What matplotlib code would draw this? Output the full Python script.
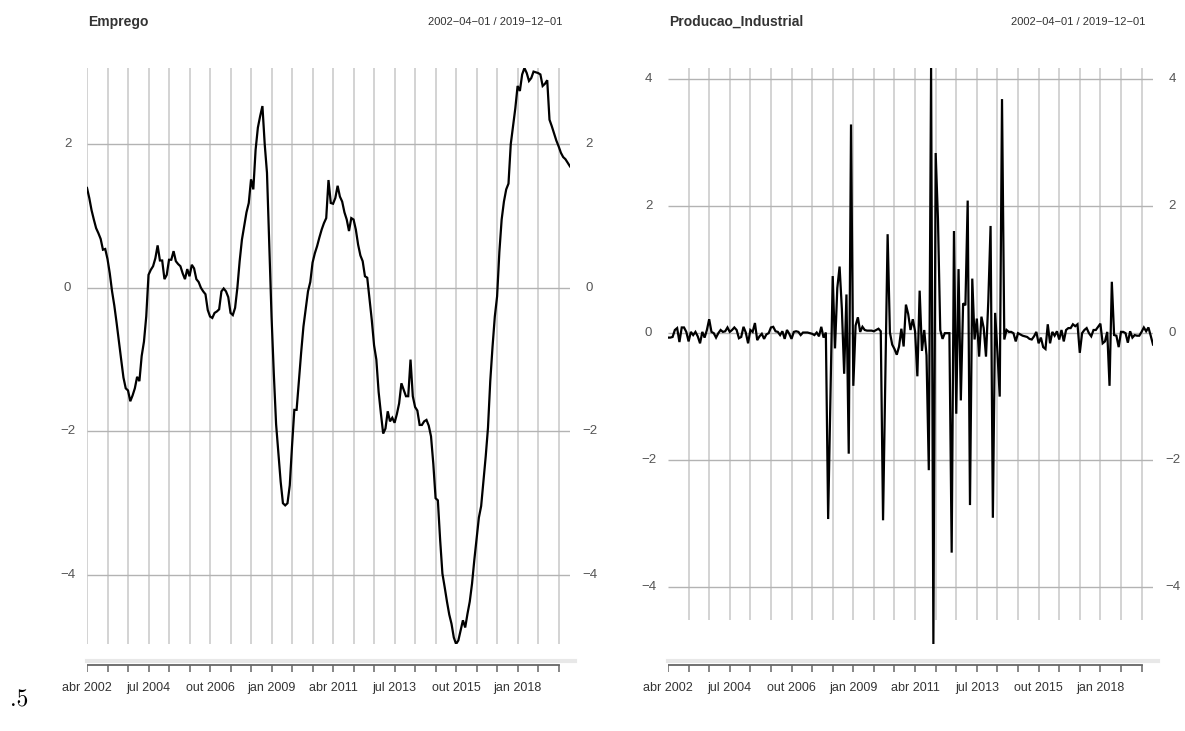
import numpy as np
import matplotlib
matplotlib.use("Agg")
import matplotlib.pyplot as plt

plt.rcParams['font.family'] = ['Liberation Sans Narrow', 'Liberation Sans', 'DejaVu Sans']

# series (monthly, abr 2002 .. dez 2019)
emprego = [
    1.39, 1.25, 1.08, 0.95, 0.83, 0.76, 0.68, 0.53, 0.54, 0.40, 0.20, -0.05,
    -0.25, -0.49, -0.75, -1.00, -1.25, -1.40, -1.43, -1.58, -1.50, -1.40, -1.24, -1.30,
    -0.95, -0.75, -0.40, 0.18, 0.25, 0.30, 0.41, 0.59, 0.38, 0.38, 0.12, 0.18,
    0.39, 0.39, 0.51, 0.37, 0.33, 0.30, 0.20, 0.12, 0.26, 0.16, 0.32, 0.27,
    0.12, 0.08, 0.00, -0.05, -0.09, -0.31, -0.40, -0.42, -0.35, -0.33, -0.30, -0.05,
    -0.01, -0.05, -0.13, -0.35, -0.38, -0.28, 0.00, 0.37, 0.67, 0.86, 1.05, 1.18,
    1.51, 1.37, 1.92, 2.23, 2.39, 2.53, 2.00, 1.60, 0.60, -0.40, -1.20, -1.90,
    -2.30, -2.70, -3.00, -3.03, -3.00, -2.75, -2.20, -1.70, -1.70, -1.30, -0.90, -0.54,
    -0.30, -0.05, 0.08, 0.35, 0.48, 0.58, 0.70, 0.81, 0.90, 0.97, 1.50, 1.18,
    1.17, 1.25, 1.42, 1.27, 1.20, 1.05, 0.95, 0.79, 0.97, 0.95, 0.81, 0.60,
    0.45, 0.37, 0.16, 0.14, -0.15, -0.45, -0.80, -1.00, -1.45, -1.75, -2.03, -1.96,
    -1.72, -1.86, -1.81, -1.88, -1.76, -1.61, -1.33, -1.42, -1.51, -1.51, -1.00, -1.51,
    -1.66, -1.71, -1.91, -1.91, -1.86, -1.84, -1.92, -2.07, -2.45, -2.93, -2.96, -3.51,
    -3.98, -4.17, -4.37, -4.55, -4.68, -4.87, -4.96, -4.91, -4.77, -4.63, -4.73, -4.54,
    -4.37, -4.12, -3.79, -3.50, -3.20, -3.04, -2.70, -2.35, -1.95, -1.30, -0.82, -0.40,
    -0.12, 0.50, 0.95, 1.20, 1.37, 1.45, 2.00, 2.25, 2.50, 2.81, 2.74, 2.97,
    3.06, 2.99, 2.88, 2.92, 3.01, 3.00, 2.99, 2.97, 2.81, 2.84, 2.89, 2.34,
    2.25, 2.15, 2.05, 1.97, 1.88, 1.82, 1.79, 1.74, 1.69,
]

producao = [
    -0.07, -0.07, -0.06, 0.05, 0.08, -0.14, 0.09, 0.09, 0.02, -0.13, 0.02, -0.03,
    0.02, -0.05, -0.16, 0.02, -0.07, 0.05, 0.22, 0.02, 0.00, -0.07, 0.00, 0.05,
    0.02, 0.03, 0.09, 0.02, 0.05, 0.09, 0.05, -0.08, -0.06, 0.10, 0.01, -0.16,
    0.05, 0.02, 0.16, -0.11, -0.05, -0.01, -0.09, -0.02, 0.00, 0.09, 0.10, 0.03,
    0.02, -0.03, 0.03, -0.09, 0.05, -0.01, -0.09, 0.02, 0.03, 0.02, -0.03, 0.01,
    0.01, 0.01, 0.00, -0.01, -0.03, 0.01, -0.05, 0.10, -0.07, 0.01, -2.93, -1.00,
    0.90, -0.24, 0.71, 1.05, 0.38, -0.64, 0.61, -1.90, 3.29, -0.83, 0.12, 0.25,
    0.02, 0.10, 0.05, 0.04, 0.04, 0.04, 0.03, 0.05, 0.07, 0.03, -2.95, -0.70,
    1.56, 0.01, -0.18, -0.25, -0.34, -0.21, 0.07, -0.21, 0.45, 0.30, 0.05, 0.22,
    0.03, -0.68, 0.67, -0.28, 0.05, -0.35, -2.16, 4.18, -4.90, 2.84, 1.80, 0.05,
    -0.09, 0.00, 0.00, 0.00, -3.46, 1.61, -1.27, 1.01, -1.06, 0.47, 0.44, 2.09,
    -2.71, 0.86, -0.10, 0.23, -0.37, 0.26, 0.08, -0.37, 0.50, 1.69, -2.91, 0.32,
    -0.30, -1.00, 3.69, -0.10, 0.05, 0.02, 0.02, 0.00, -0.13, 0.00, -0.02, -0.04,
    -0.05, -0.06, -0.09, -0.10, -0.05, 0.02, -0.16, -0.07, -0.22, -0.25, 0.14, -0.16,
    0.02, -0.04, 0.03, -0.10, 0.05, -0.13, 0.05, 0.08, 0.08, 0.14, 0.11, 0.14,
    -0.31, 0.00, 0.05, 0.08, 0.00, -0.05, 0.05, 0.05, 0.10, 0.15, -0.16, -0.13,
    0.02, -0.83, 0.81, -0.03, -0.04, -0.22, 0.02, 0.02, 0.00, -0.15, 0.03, -0.07,
    -0.03, -0.04, -0.04, 0.02, 0.09, 0.03, 0.09, -0.04, -0.18,
]

titles = ['Emprego', 'Producao_Industrial']
periodo = '2002\u221204\u221201 / 2019\u221212\u221201'
tick_step = 9
label_step = 27
x_labels = ['abr 2002', 'jul 2004', 'out 2006', 'jan 2009',
            'abr 2011', 'jul 2013', 'out 2015', 'jan 2018']
y_ticks_emprego = [2, 0, -2, -4]
y_ticks_producao = [4, 2, 0, -2, -4]

W, H = 1185, 731
fig = plt.figure(figsize=(W / 100, H / 100), dpi=100)


def px_axes(x0, x1, y0, y1):
    return fig.add_axes([x0 / W, 1 - y1 / H, (x1 - x0) / W, (y1 - y0) / H])


def fmt(v):
    return str(v).replace('-', '\u2212')


def painel(serie, titulo, yticks, x0, x1, grid_bottom=None, first_vline=True):
    y = np.array(serie)
    idx = np.arange(len(y))
    ax = px_axes(x0, x1, 68, 644)
    ax.set_xlim(0, len(y) - 1)
    ax.set_ylim(y.min(), y.max())
    ax.axis('off')

    ticks = np.arange(0, len(y), tick_step)
    vt = ticks if first_vline else ticks[1:]
    gb = y.min() if grid_bottom is None else grid_bottom
    ax.vlines(vt, gb, y.max(), color='#d0d0d0', lw=1.3, zorder=1)
    ax.hlines(yticks, 0, len(y) - 1, color='#b3b3b3', lw=1.0, zorder=1)
    ax.plot(idx, y, color='black', lw=1.6, zorder=3, solid_joinstyle='miter')

    for t in yticks:
        ax.annotate(fmt(t), xy=(0, t), xycoords=('axes fraction', 'data'),
                    xytext=(-14, 0), textcoords='offset points',
                    ha='center', va='center', fontsize=9.5, color='#555555')
        ax.annotate(fmt(t), xy=(1, t), xycoords=('axes fraction', 'data'),
                    xytext=(14, 0), textcoords='offset points',
                    ha='center', va='center', fontsize=9.5, color='#555555')

    # eixo do tempo
    tx = px_axes(x0, x1, 650, 731)
    tx.set_xlim(0, len(y) - 1)
    tx.set_ylim(731, 650)
    tx.axis('off')
    tx.plot([0, len(y) + 1], [661, 661], color='#e8e8e8', lw=3, clip_on=False)
    tx.plot([0, ticks[-1]], [665, 665], color='#666666', lw=1.3)
    tx.vlines(ticks, 665, 672, color='#666666', lw=1.1)
    for k, lab in enumerate(x_labels):
        tx.text(k * label_step, 688, lab, ha='center', va='center',
                fontsize=9, color='#333333')

    fig.text(x0 / W + 0.001, 1 - 22 / H, titulo, ha='left', va='center',
             fontsize=10, fontweight='bold', color='#333333')
    fig.text((x1 - 8) / W, 1 - 22 / H, periodo, ha='right', va='center',
             fontsize=8, color='#333333')


painel(emprego, titles[0], y_ticks_emprego, 87, 570)
painel(producao, titles[1], y_ticks_producao, 668, 1153, grid_bottom=-4.52,
       first_vline=False)

fig.text(10 / W, 1 - 700 / H, '.5', ha='left', va='center', fontsize=17,
         family='cmr10')

fig.savefig('out.png', dpi=100)
